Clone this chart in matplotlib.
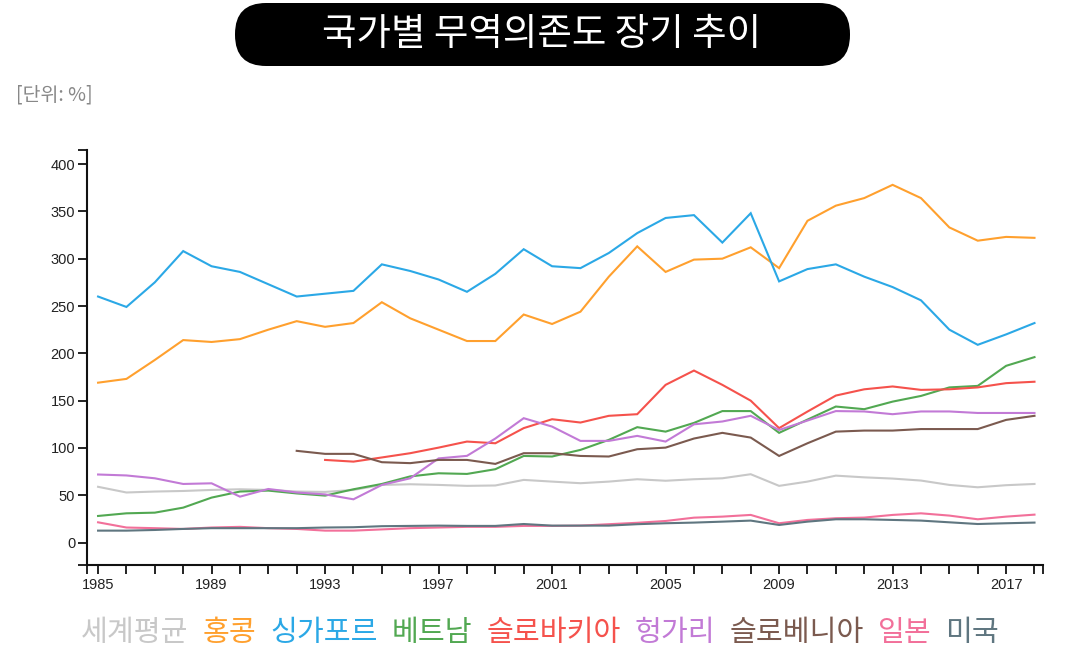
import numpy as np
import matplotlib
matplotlib.use("Agg")
import matplotlib.pyplot as plt
from matplotlib.patches import FancyBboxPatch
from matplotlib.transforms import IdentityTransform
from matplotlib.ticker import FixedLocator, NullFormatter

years = list(range(1985, 2019))

world = [59, 53, 54, 54.6, 55.7, 56.4, 55.7, 54, 53.6, 55.7, 61, 61.7, 61, 60, 60.4, 66.3, 64.5, 62.8,
         64.5, 67, 65.4, 67, 68, 72.3, 60, 64.5, 70.8, 69, 67.7, 65.6, 61, 58.5, 60.7, 62]
hongkong = [169, 173, 193, 214, 212, 215, 225, 234, 228, 232, 254, 237, 225, 213, 213, 241, 231, 244,
            281, 313, 286, 299, 300, 312, 290, 340, 356, 364, 378, 364, 333, 319, 323, 322]
singapore = [260, 249, 275, 308, 292, 286, 273, 260, 263, 266, 294, 287, 278, 265, 284, 310, 292, 290,
             306, 327, 343, 346, 317, 348, 276, 289, 294, 281, 270, 256, 225, 209, 220, 232]
vietnam = [28.2, 31, 31.7, 37, 47.6, 54, 55, 52, 49.7, 56.4, 62, 70, 73.3, 72.6, 77.6, 91.6, 91, 98,
           108.6, 122, 117.3, 126.5, 139, 139, 116, 130, 143.8, 141, 149, 155, 164, 165.6, 186.8, 196]
slovakia = [None] * 8 + [87.4, 85.6, 90, 94.5, 100.4, 106.8, 105, 121, 130.4, 126.9, 134, 135.7,
                         166.7, 181.8, 166.7, 150, 121, 138.5, 155.4, 162, 165, 161.4, 162, 164, 168.5, 170]
hungary = [72, 71, 68, 62, 62.7, 48.6, 56.7, 53, 51, 45.8, 61, 68, 89, 91.7, 110, 131.5, 122.6, 107.5,
           107.5, 112.8, 106.8, 125, 128, 134, 119, 129, 139, 138.6, 135.7, 138.6, 138.6, 137, 137, 137]
slovenia = [None] * 7 + [97, 93.8, 93.8, 85, 84, 87.4, 87.4, 83.2, 94.5, 94.5, 91.6, 91, 98.7, 100.4,
                         110, 116, 111, 91.6, 105, 117.3, 118.4, 118.4, 120, 120, 120, 129.7, 134]
japan = [21.5, 16, 15.3, 14.5, 16, 16.7, 15.3, 14.5, 12.7, 12.7, 14, 15.3, 16, 16.7, 16.7, 17.7, 17.7, 18,
         19.5, 21, 22.9, 26.4, 27.5, 29.3, 20.5, 24, 25.8, 26.5, 29.3, 31, 28.6, 24.7, 27.5, 29.6]
usa = [12.7, 12.7, 13.4, 14.5, 15.3, 15.3, 15.3, 15.3, 16, 16.3, 17.4, 17.7, 18, 17.7, 17.7, 19.7, 18, 18,
       18, 19.5, 20.5, 21.2, 22.2, 23.3, 18.7, 22.2, 24.7, 24.7, 24, 23.3, 21.5, 19.7, 20.5, 21.2]

names = ["세계평균", "홍콩", "싱가포르", "베트남", "슬로바키아", "헝가리", "슬로베니아", "일본", "미국"]
series = [world, hongkong, singapore, vietnam, slovakia, hungary, slovenia, japan, usa]
colors = ["#c8c8c8", "#ffa02e", "#2ba8e6", "#52a852", "#f5524c", "#c27ad6", "#7b5a4f", "#f2709a", "#5f7680"]

title = "국가별 무역의존도 장기 추이"
unit = "[단위: %]"
yticks = [0, 50, 100, 150, 200, 250, 300, 350, 400]
xlabels = [1985, 1989, 1993, 1997, 2001, 2005, 2009, 2013, 2017]

W, H = 1084, 671
fig = plt.figure(figsize=(W / 100, H / 100), dpi=100)
KR = ["Noto Sans CJK KR", "DejaVu Sans"]

ax = fig.add_axes([87 / W, (H - 565) / H, (1043 - 87) / W, (565 - 150) / H])
for vals, c in zip(series, colors):
    v = np.array([np.nan if x is None else x for x in vals], dtype=float)
    ax.plot(years, v, color=c, lw=1.5, solid_joinstyle="miter")

ax.set_xlim(1984.61, 2018.30)
ax.set_ylim(-23.6, 414.8)
for s in ["top", "right"]:
    ax.spines[s].set_visible(False)
for s in ["left", "bottom"]:
    ax.spines[s].set_linewidth(1.5)
    ax.spines[s].set_color("#111111")

ax.xaxis.set_major_locator(FixedLocator(years))
ax.set_xticklabels([str(y) if y in xlabels else "" for y in years])
ax.xaxis.set_minor_locator(FixedLocator([1984.61, 2018.30]))
ax.xaxis.set_minor_formatter(NullFormatter())
ax.set_yticks(yticks)
ax.yaxis.set_minor_locator(FixedLocator([-23.6, 414.8]))
ax.yaxis.set_minor_formatter(NullFormatter())
ax.tick_params(axis="both", which="both", length=6.5, width=1.3, color="#111111")
ax.tick_params(axis="x", labelsize=10.5, pad=3)
ax.tick_params(axis="y", labelsize=10.5, pad=2)
for lbl in ax.get_xticklabels() + ax.get_yticklabels():
    lbl.set_fontfamily(["Liberation Sans", "DejaVu Sans"])
    lbl.set_color("#222222")

# title box
box = FancyBboxPatch((235, H - 66), 615, 63, boxstyle="round,pad=0,rounding_size=31",
                     transform=IdentityTransform(), facecolor="black", edgecolor="none")
fig.patches.append(box)
fig.text(542 / W, (H - 35) / H, title, color="white", fontsize=27, family=KR,
         ha="center", va="center")

fig.text(16 / W, (H - 95) / H, unit, color="#888888", fontsize=14, family=KR,
         ha="left", va="center")

# legend as coloured text row
fig.canvas.draw()
renderer = fig.canvas.get_renderer()
texts = []
for n, c in zip(names, colors):
    t = fig.text(0, (H - 633) / H, n, color=c, fontsize=21, family=KR, ha="left",
                 va="center", fontweight="medium")
    texts.append(t)
gap = 14
widths = [t.get_window_extent(renderer).width for t in texts]
total = sum(widths) + gap * (len(texts) - 1)
x = 540 - total / 2
for t, w in zip(texts, widths):
    t.set_x(x / W)
    x += w + gap

fig.savefig("out.png", dpi=100)
